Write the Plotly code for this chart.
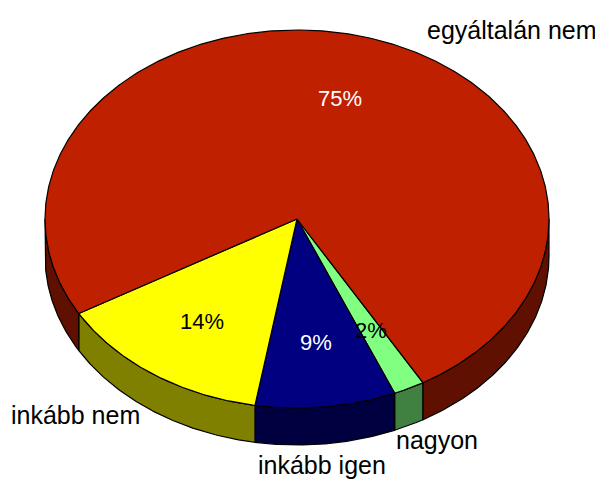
import numpy as np
import plotly.graph_objects as go

# ---- data ----
categories = ["nagyon", "inkább igen", "inkább nem", "egyáltalán nem"]
values = [2, 9, 14, 75]
pct_labels = ["2%", "9%", "14%", "75%"]

# ---- styles ----
top_colors = ["#80FF80", "#000080", "#FFFF00", "#BF2000"]
side_colors = ["#408040", "#000040", "#808000", "#601000"]
pct_colors = ["black", "white", "black", "white"]
FONT = "Liberation Sans, Arial, sans-serif"

# ---- geometry of the tilted pie (page pixel space) ----
OFF = 8  # default page margin around the plot div
W, H = 603 - OFF, 481 - OFF
CX, CY, RX, RY, DEPTH = 297, 219, 252, 189, 37
START = 60.0  # degrees, clockwise on screen
LABEL_R = 0.66
# outer category label positions (layout)
outer_pos = {"nagyon": (437, 440), "inkább igen": (322, 465),
             "inkább nem": (75, 415), "egyáltalán nem": (512, 30)}


def ell(t_deg, dy=0.0):
    t = np.radians(t_deg)
    return CX + RX * np.cos(t), CY + RY * np.sin(t) + dy


vals = np.array(values, dtype=float)
spans = vals / vals.sum() * 360.0
ends = START + np.cumsum(spans)
starts = ends - spans

fig = go.Figure()

# side walls (front half: 0..180 deg)
for i in range(len(values)):
    t1, t2 = starts[i], ends[i]
    for k in (0.0, 360.0, 720.0):
        lo, hi = max(t1, k), min(t2, k + 180.0)
        if hi > lo:
            ts = np.linspace(lo, hi, 120)
            xt, yt = ell(ts)
            xb, yb = ell(ts[::-1], DEPTH)
            xs = np.concatenate([xt, xb, xt[:1]])
            ys = np.concatenate([yt, yb, yt[:1]])
            fig.add_trace(go.Scatter(x=xs, y=ys, mode="lines", fill="toself",
                                     fillcolor=side_colors[i],
                                     line=dict(color="black", width=1.2),
                                     hoverinfo="skip", showlegend=False))

# top faces
for i in range(len(values)):
    ts = np.linspace(starts[i], ends[i], max(int(spans[i] * 2), 10))
    xe, ye = ell(ts)
    xs = np.concatenate([[CX], xe, [CX]])
    ys = np.concatenate([[CY], ye, [CY]])
    fig.add_trace(go.Scatter(x=xs, y=ys, mode="lines", fill="toself",
                             fillcolor=top_colors[i],
                             line=dict(color="black", width=1.2),
                             name=categories[i], hoverinfo="name",
                             showlegend=False))

annotations = []
for i in range(len(values)):
    mid = np.radians((starts[i] + ends[i]) / 2)
    px = CX + LABEL_R * RX * np.cos(mid)
    py = CY + LABEL_R * RY * np.sin(mid)
    annotations.append(dict(x=px, y=py, text=pct_labels[i], showarrow=False,
                            xref="x", yref="y",
                            font=dict(family=FONT, size=22, color=pct_colors[i])))
    ox, oy = outer_pos[categories[i]]
    annotations.append(dict(x=ox, y=oy, text=categories[i], showarrow=False,
                            xref="x", yref="y",
                            font=dict(family=FONT, size=25, color="black")))

fig.update_layout(
    width=W, height=H, margin=dict(l=0, r=0, t=0, b=0),
    paper_bgcolor="white", plot_bgcolor="white",
    xaxis=dict(range=[OFF, OFF + W], visible=False, fixedrange=True),
    yaxis=dict(range=[OFF + H, OFF], visible=False, fixedrange=True),
    annotations=annotations, showlegend=False,
)

fig.write_html("out.html")
